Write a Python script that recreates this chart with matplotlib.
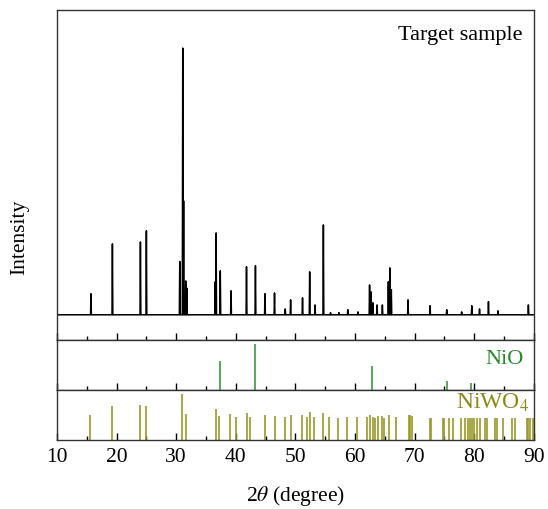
import matplotlib
matplotlib.use('Agg')
import matplotlib.pyplot as plt
import numpy as np
from matplotlib.ticker import MultipleLocator

plt.rcParams['font.family'] = ['Liberation Serif', 'DejaVu Serif']
plt.rcParams['mathtext.fontset'] = 'stix'

# Data
# measured pattern: peak positions (2theta) and relative heights (strongest = 100)
sample_pos = [15.7, 19.3, 24.0, 25.0, 30.6, 31.1, 31.25, 31.6, 31.8, 36.55, 36.7, 37.4,
              39.2, 41.8, 43.3, 44.9, 46.5, 48.3, 49.2, 51.2, 52.4, 53.3, 54.7, 55.9,
              57.3, 58.8, 60.5, 62.45, 62.7, 63.0, 63.7, 64.6, 65.6, 65.85, 66.1, 68.9,
              72.6, 75.4, 77.9, 79.6, 80.9, 82.4, 84.0, 89.1]
sample_int = [7.9, 26.6, 27.3, 31.5, 20.0, 100, 42.7, 12.7, 10.0, 12.4, 30.7, 16.5,
              9.0, 18.0, 18.4, 7.9, 8.2, 2.2, 5.6, 6.4, 16.1, 3.7, 33.7, 0.8,
              0.8, 1.9, 1.1, 11.2, 8.6, 4.5, 3.7, 3.7, 12.4, 17.6, 9.4, 5.6,
              3.4, 1.9, 1.1, 3.4, 2.2, 4.9, 1.5, 3.7]

# NiO reference lines
nio_pos = [37.3, 43.3, 62.9, 75.4, 79.4]
nio_int = [63, 100, 52, 20, 15]

# NiWO4 reference lines
niwo4_pos = [15.6, 19.3, 24.0, 24.9, 31.0, 31.6, 36.7, 37.2, 39.1, 40.1, 41.8, 42.4,
             44.9, 46.6, 48.3, 49.2, 51.1, 51.9, 52.4, 53.2, 54.7, 55.7, 57.2, 58.6,
             60.3, 62.1, 62.5, 63.0, 63.3, 63.8, 64.6, 64.9, 65.7, 66.9, 69.1, 69.3,
             69.5, 72.6, 72.8, 74.7, 75.0, 75.7, 76.4, 77.8, 78.5, 79.0, 79.3, 79.7,
             80.0, 80.4, 81.0, 81.8, 82.1, 83.5, 83.8, 84.9, 86.3, 86.8, 88.8, 89.1,
             89.4, 89.8]
niwo4_int = [54, 74, 76, 74, 100, 57, 67, 52, 57, 50, 59, 50,
             54, 52, 50, 54, 54, 50, 61, 50, 59, 50, 48, 50,
             50, 50, 54, 50, 48, 52, 52, 48, 54, 50, 54, 54,
             52, 48, 48, 48, 48, 48, 48, 48, 48, 48, 48, 48,
             48, 48, 48, 48, 48, 48, 48, 48, 48, 48, 48, 48,
             48, 48]

# build the measured trace as narrow spikes on a flat baseline
hw = 0.07
xs, ys = [10.0], [0.0]
for p, h in sorted(zip(sample_pos, sample_int)):
    xs += [p - hw, p, p + hw]
    ys += [0.0, h, 0.0]
xs.append(90.0)
ys.append(0.0)

fig = plt.figure(figsize=(5.48, 5.09), dpi=100)
gs = fig.add_gridspec(3, 1, height_ratios=[330, 50, 50], hspace=0)
fig.subplots_adjust(left=0.104, right=0.974, top=0.980, bottom=0.136)
ax1 = fig.add_subplot(gs[0])
ax2 = fig.add_subplot(gs[1], sharex=ax1)
ax3 = fig.add_subplot(gs[2], sharex=ax1)

ax1.plot(xs, ys, color='black', lw=1.1)
ax1.set_ylim(-9.4, 114.2)
ax1.text(0.977, 0.924, 'Target sample', transform=ax1.transAxes,
         ha='right', va='center', fontsize=16)

ax2.vlines(nio_pos, 0, nio_int, color='#3a9a3a', lw=1.2)
ax2.set_ylim(0, 108.7)
ax2.text(0.979, 0.6, 'NiO', transform=ax2.transAxes, ha='right', va='center',
         fontsize=16, color='#2a8a2a')

ax3.vlines(niwo4_pos, 0, niwo4_int, color='#9a9a28', lw=1.2)
ax3.set_ylim(0, 108.7)
ax3.text(0.99, 0.74, 'NiWO$_4$', transform=ax3.transAxes, ha='right', va='center',
         fontsize=17, color='#8a8a14')

for ax in (ax1, ax2, ax3):
    ax.set_xlim(10, 90)
    ax.set_yticks([])
    ax.xaxis.set_major_locator(MultipleLocator(10))
    ax.xaxis.set_minor_locator(MultipleLocator(5))
    ax.tick_params(axis='x', which='major', direction='in', length=5, width=1)
    ax.tick_params(axis='x', which='minor', direction='in', length=3, width=1)
    for s in ax.spines.values():
        s.set_linewidth(1.0)
        s.set_color('#333333')

ax1.tick_params(axis='x', labelbottom=False)
ax2.tick_params(axis='x', labelbottom=False)
ax3.tick_params(axis='x', labelsize=15.5, pad=6)
ax3.set_xlabel(r'2$\theta$ (degree)', fontsize=15.5, labelpad=12)
fig.text(20 / 548, 0.534, 'Intensity', rotation=90, ha='center', va='center', fontsize=15.5)

fig.savefig('out.png', dpi=100)
